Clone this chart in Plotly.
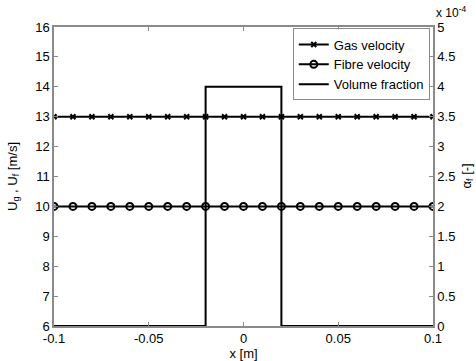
import plotly.graph_objects as go

# Positions along the duct [m]
x_pts = [round(-0.1 + 0.01 * i, 2) for i in range(21)]
# Velocities [m/s]
gas_velocity = [13.0] * 21
fibre_velocity = [10.0] * 21
# Fibre volume fraction profile (step of width 0.04 m)
vf_x = [-0.1, -0.02, -0.02, 0.02, 0.02, 0.1]
vf_y = [0.0, 0.0, 4e-4, 4e-4, 0.0, 0.0]

left_ticks = [6, 7, 8, 9, 10, 11, 12, 13, 14, 15, 16]
right_tickvals = [k * 0.5e-4 for k in range(11)]
right_ticktext = ["0", "0.5", "1", "1.5", "2", "2.5", "3", "3.5", "4", "4.5", "5"]
x_ticks = [-0.1, -0.05, 0, 0.05, 0.1]
x_ticktext = ["-0.1", "-0.05", "0", "0.05", "0.1"]

FONT = "Liberation Sans, Arial, sans-serif"
AXCOL = "#8a8a8a"

fig = go.Figure()
fig.add_trace(go.Scatter(
    x=x_pts, y=gas_velocity, name="Gas velocity", mode="lines+markers",
    line=dict(color="black", width=2),
    marker=dict(symbol="x-thin-open", size=5, line=dict(color="black", width=2)),
))
fig.add_trace(go.Scatter(
    x=x_pts, y=fibre_velocity, name="Fibre velocity", mode="lines+markers",
    line=dict(color="black", width=2),
    marker=dict(symbol="circle-open", size=7, line=dict(color="black", width=2)),
))
fig.add_trace(go.Scatter(
    x=vf_x, y=vf_y, name="Volume fraction", mode="lines", yaxis="y2",
    line=dict(color="black", width=2),
))

fig.update_layout(
    width=476, height=361,
    margin=dict(l=54, r=43, t=27, b=35, autoexpand=False),
    paper_bgcolor="white", plot_bgcolor="white",
    font=dict(family=FONT, size=13, color="black"),
    showlegend=True,
    legend=dict(
        x=0.63, y=0.995, xanchor="left", yanchor="top",
        bgcolor="white", bordercolor=AXCOL, borderwidth=1,
        font=dict(size=13), tracegroupgap=0, itemwidth=30,
    ),
    xaxis=dict(
        range=[-0.1, 0.1], tickvals=x_ticks, ticktext=x_ticktext,
        ticks="inside", ticklen=4, tickcolor=AXCOL,
        showline=True, linecolor=AXCOL, linewidth=1.5, mirror="ticks",
        showgrid=False, zeroline=False, automargin=False,
        title=dict(text="x [m]", font=dict(size=13)),
    ),
    yaxis=dict(
        range=[6, 16], tickvals=left_ticks,
        ticks="inside", ticklen=4, tickcolor=AXCOL,
        showline=True, linecolor=AXCOL, linewidth=1.5,
        showgrid=False, zeroline=False, automargin=False,
        title=dict(text="U<sub>g</sub> , U<sub>f</sub> [m/s]", font=dict(size=13)),
    ),
    yaxis2=dict(
        overlaying="y", side="right",
        range=[0, 5e-4], tickvals=right_tickvals, ticktext=right_ticktext,
        ticks="inside", ticklen=4, tickcolor=AXCOL,
        showline=True, linecolor=AXCOL, linewidth=1.5,
        showgrid=False, zeroline=False, automargin=False,
    ),
    annotations=[
        dict(
            text="x 10<sup>-4</sup>", xref="paper", yref="paper",
            x=1.0, y=1.0, xanchor="left", yanchor="bottom",
            xshift=1, yshift=5, showarrow=False, font=dict(size=12),
        ),
        # right-hand axis title
        dict(
            text="α<sub>f</sub> [-]", xref="paper", yref="paper",
            x=1.0, y=0.5, xanchor="center", yanchor="middle",
            xshift=34, showarrow=False, textangle=-90, font=dict(size=13),
        ),
    ],
)

fig.write_html("out.html")
